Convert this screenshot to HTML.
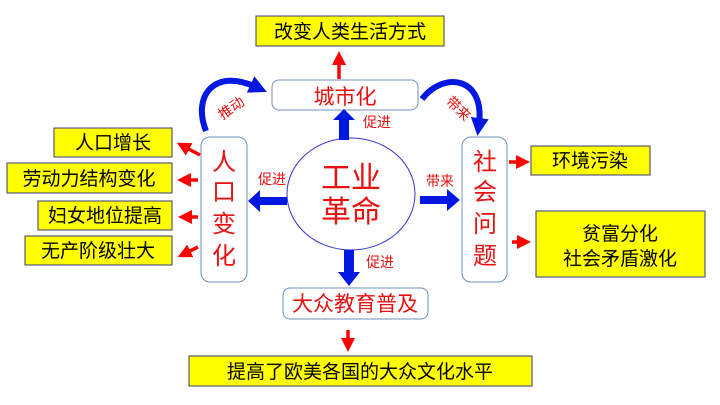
<!DOCTYPE html>
<html><head><meta charset="utf-8"><style>
html,body{margin:0;padding:0;background:#fff;width:720px;height:405px;overflow:hidden}
text{font-family:"Liberation Sans","Noto Sans CJK SC",sans-serif}
</style></head><body>
<svg width="720" height="405" viewBox="0 0 720 405" xmlns="http://www.w3.org/2000/svg">
<defs>
<marker id="rh" markerWidth="4" markerHeight="4" refX="2" refY="2" orient="auto" markerUnits="strokeWidth"><path d="M0,0L4,2L0,4z" fill="#f00"/></marker>
<marker id="bh" markerWidth="3" markerHeight="3" refX="1" refY="1.5" orient="auto" markerUnits="strokeWidth"><path d="M0,0L3,1.5L0,3z" fill="#0018e0"/></marker>
</defs>
<g stroke="#3a3a7a" stroke-width="1" fill="#ffff00">
<rect x="256" y="16" width="188" height="30"/>
<rect x="54" y="128" width="118" height="29"/>
<rect x="7" y="163" width="165" height="30"/>
<rect x="38" y="201" width="134" height="29"/>
<rect x="25" y="236" width="147" height="29"/>
<rect x="531" y="146" width="119" height="29"/>
<rect x="536" y="211" width="169" height="66"/>
<rect x="189" y="356" width="343" height="30"/>
</g>
<g fill="#000" font-size="19" text-anchor="middle">
<text x="350" y="38">改变人类生活方式</text>
<text x="113" y="149">人口增长</text>
<text x="89" y="185">劳动力结构变化</text>
<text x="105" y="222">妇女地位提高</text>
<text x="98" y="257">无产阶级壮大</text>
<text x="590" y="167">环境污染</text>
<text x="620" y="240">贫富分化</text>
<text x="620" y="265">社会矛盾激化</text>
<text x="360" y="378">提高了欧美各国的大众文化水平</text>
</g>
<g fill="#fff" stroke="#6d8fbf" stroke-width="1">
<rect x="272" y="80" width="146" height="30" rx="7"/>
<rect x="201" y="137" width="46" height="145" rx="9"/>
<rect x="462" y="137" width="45" height="145" rx="9"/>
<rect x="283" y="288" width="145" height="31" rx="7"/>
<ellipse cx="351" cy="194" rx="64" ry="56" stroke="#3333cc"/>
</g>
<g fill="#e81010" text-anchor="middle">
<text x="345" y="104" font-size="21">城市化</text>
<text x="355" y="311" font-size="21">大众教育普及</text>
<text x="224" y="170" font-size="24">人</text>
<text x="224" y="200" font-size="24">口</text>
<text x="224" y="232" font-size="24">变</text>
<text x="224" y="264" font-size="24">化</text>
<text x="485" y="170" font-size="24">社</text>
<text x="485" y="200" font-size="24">会</text>
<text x="485" y="232" font-size="24">问</text>
<text x="485" y="264" font-size="24">题</text>
<text x="351" y="188" font-size="30">工业</text>
<text x="351" y="222" font-size="30">革命</text>
<g font-size="14">
<text x="377" y="127">促进</text>
<text x="272" y="184">促进</text>
<text x="440" y="186">带来</text>
<text x="380" y="267">促进</text>
<text x="234" y="112" transform="rotate(-35 234 112)">推动</text>
<text x="455" y="112" transform="rotate(45 455 112)">带来</text>
</g>
</g>
<!-- blue arrows -->
<g fill="#0018e0">
<path d="M339,140 L339,120 L333,120 L344,109 L355,120 L349,120 L349,140z"/>
<path d="M287,197 L260,197 L260,190 L248,201 L260,212 L260,205 L287,205z"/>
<path d="M420,196 L447,196 L447,189 L460,200 L447,211 L447,204 L420,204z"/>
<path d="M344,250 L344,272 L338,272 L349,286 L360,272 L354,272 L354,250z"/>
</g>
<g stroke="#0018e0" stroke-width="6" fill="none" marker-end="url(#bh)">
<path d="M206,131 C192,95 215,68 256,87"/>
<path d="M422,99 C445,70 485,78 479,124"/>
</g>
<!-- red arrows -->
<g stroke="#f00" stroke-width="3.5" fill="none" marker-end="url(#rh)">
<line x1="339" y1="79" x2="339" y2="58"/>
<line x1="200" y1="155" x2="183" y2="146"/>
<line x1="198" y1="180" x2="184" y2="180"/>
<line x1="198" y1="217" x2="185" y2="217"/>
<line x1="198" y1="247" x2="184" y2="254"/>
<line x1="509" y1="162" x2="523" y2="162"/>
<line x1="512" y1="242" x2="524" y2="242"/>
<line x1="348" y1="330" x2="348" y2="345"/>
</g>
</svg>
</body></html>
